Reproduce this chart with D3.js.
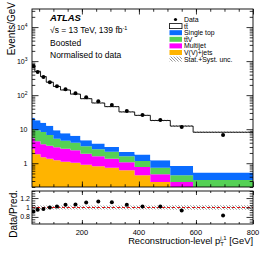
<!DOCTYPE html>
<meta charset="utf-8">
<title>Leading jet pT</title>
<style>
body { margin: 0; background: #fff; }
text { font-family: "Liberation Sans", Arial, sans-serif; fill: #000; }
</style>
<body>
<script src="https://cdn.jsdelivr.net/npm/d3@7"></script>
<script>

// bin edges in GeV
var binEdges = [25, 35, 55, 75, 100, 125, 160, 195, 235, 280, 330, 385, 440, 510, 590, 800];

// Events/GeV per bin
var dataVals  = [710, 475, 339, 241, 184, 150, 114, 87, 66, 51, 34, 26, 18.5, 11.5, 6.7];
var ttbar     = [753, 482, 336, 228, 171, 134, 101, 74, 55, 43, 30, 23.7, 16.8, 11.5, 7.6];
var singleTop = [11.8, 9.05, 7.3, 6.0, 4.1, 3.0, 2.4, 1.59, 1.22, 0.82, 0.55, 0.63, 0.49, 0.39, 0.21];
var ttV       = [4.6, 4.95, 4.6, 3.43, 2.29, 1.93, 1.59, 1.26, 0.98, 0.82, 0.53, 0.39, 0.26, 0.16, 0.18];
var multijet  = [2.82, 2.56, 2.1, 1.91, 1.74, 1.57, 1.38, 1.0, 0.78, 0.62, 0.45, 0.34, 0.19, 0.12, 0.06];
var vvJets    = [2.58, 1.84, 1.5, 1.36, 1.22, 1.1, 1.03, 0.9, 0.82, 0.74, 0.62, 0.44, 0.28, 0.16, 0.08];

// relative stat+syst uncertainty on the prediction
var relUnc = [0.05, 0.04, 0.04, 0.04, 0.04, 0.04, 0.04, 0.04, 0.04, 0.04, 0.04, 0.04, 0.045, 0.05, 0.05];

// Data / Pred.
var ratioVals = [0.916, 0.95, 0.966, 1.0, 1.02, 1.057, 1.063, 1.105, 1.126, 1.114, 1.057, 1.02, 1.02, 0.937, 0.83];

var xMajor = [200, 400, 600, 800];
var xMinor = d3.range(50, 800, 50);
var yDecades = [1, 10, 100, 1000, 10000];
var ratioMajor = [0.8, 1, 1.2];

var samples = [
  {key: "vv", name: "V(V)+jets", vals: vvJets, color: "#ffb400"},
  {key: "mj", name: "Multijet", vals: multijet, color: "#ff00ff"},
  {key: "ttv", name: "tt\u0304V", vals: ttV, color: "#55d155"},
  {key: "st", name: "Single top", vals: singleTop, color: "#0a6cff"},
  {key: "tt", name: "tt\u0304", vals: ttbar, color: "#ffffff"}
];

var W = 266, H = 258;
var L = 32, R = 253, T1 = 9, B1 = 187, T2 = 191, B2 = 224;

var x = d3.scaleLinear().domain([25, 800]).range([L, R]);
var y = d3.scaleLog().domain([0.2, 3.4e4]).range([B1, T1]).clamp(true);
var yr = d3.scaleLinear().domain([0.65, 1.35]).range([B2, T2]);

var svg = d3.select("body").append("svg")
    .attr("width", W)
    .attr("height", H);

var defs = svg.append("defs");
defs.append("clipPath").attr("id", "clipTop")
  .append("rect").attr("x", L).attr("y", T1).attr("width", R - L).attr("height", B1 - T1);
defs.append("clipPath").attr("id", "clipRat")
  .append("rect").attr("x", L).attr("y", T2).attr("width", R - L).attr("height", B2 - T2);

var hatch = defs.append("pattern").attr("id", "hatch")
    .attr("patternUnits", "userSpaceOnUse")
    .attr("width", 3).attr("height", 3);
hatch.append("path").attr("d", "M-1,-1 L4,4 M-1,2 L1,4 M2,-1 L4,1")
    .attr("stroke", "#555").attr("stroke-width", 0.6);

// build the stack, one row per bin
var rows = binEdges.slice(0, -1).map(function(e, i) {
  var r = {lo: e, hi: binEdges[i + 1]};
  samples.forEach(function(s) { r[s.key] = s.vals[i]; });
  return r;
});
var stacked = d3.stack().keys(samples.map(function(s) { return s.key; }))(rows);

function stepPoints(getter) {
  var pts = rows.map(function(r, i) { return {x: r.lo, v: getter(i)}; });
  pts.push({x: binEdges[binEdges.length - 1], v: getter(rows.length - 1)});
  return pts;
}

var gTop = svg.append("g").attr("clip-path", "url(#clipTop)");

stacked.forEach(function(layer, li) {
  var pts = stepPoints(function(i) { return layer[i]; });
  var area = d3.area()
      .curve(d3.curveStepAfter)
      .x(function(d) { return x(d.x); })
      .y0(function(d) { return y(Math.max(d.v[0], 0.01)); })
      .y1(function(d) { return y(d.v[1]); });
  gTop.append("path")
      .datum(pts)
      .attr("d", area)
      .attr("fill", samples[li].color);
});

// total prediction line
var totals = rows.map(function(r, i) { return stacked[stacked.length - 1][i][1]; });
var totPts = stepPoints(function(i) { return totals[i]; });

// uncertainty band
gTop.append("path")
    .datum(totPts)
    .attr("d", d3.area().curve(d3.curveStepAfter)
      .x(function(d) { return x(d.x); })
      .y0(function(d, i) { return y(d.v * (1 - relUnc[Math.min(i, relUnc.length - 1)])); })
      .y1(function(d, i) { return y(d.v * (1 + relUnc[Math.min(i, relUnc.length - 1)])); }))
    .attr("fill", "url(#hatch)");

gTop.append("path")
    .datum(totPts)
    .attr("d", d3.line().curve(d3.curveStepAfter)
      .x(function(d) { return x(d.x); })
      .y(function(d) { return y(d.v); }))
    .attr("fill", "none")
    .attr("stroke", "#000")
    .attr("stroke-width", 0.9);

// data points
gTop.selectAll("circle.data")
    .data(dataVals)
    .enter().append("circle")
    .attr("class", "data")
    .attr("cx", function(d, i) { return x((binEdges[i] + binEdges[i + 1]) / 2); })
    .attr("cy", function(d) { return y(d); })
    .attr("r", 2);

// ratio panel
var gRat = svg.append("g").attr("clip-path", "url(#clipRat)");
var ratPts = stepPoints(function(i) { return relUnc[i]; });
gRat.append("path")
    .datum(ratPts)
    .attr("d", d3.area().curve(d3.curveStepAfter)
      .x(function(d) { return x(d.x); })
      .y0(function(d) { return yr(1 - d.v); })
      .y1(function(d) { return yr(1 + d.v); }))
    .attr("fill", "url(#hatch)");
gRat.append("line")
    .attr("x1", L).attr("x2", R)
    .attr("y1", yr(1)).attr("y2", yr(1))
    .attr("stroke", "#e01010")
    .attr("stroke-width", 1)
    .attr("stroke-dasharray", "3,2");
gRat.selectAll("circle.rat")
    .data(ratioVals)
    .enter().append("circle")
    .attr("class", "rat")
    .attr("cx", function(d, i) { return x((binEdges[i] + binEdges[i + 1]) / 2); })
    .attr("cy", function(d) { return yr(d); })
    .attr("r", 2);

// frames
[[T1, B1], [T2, B2]].forEach(function(p) {
  svg.append("rect")
    .attr("x", L).attr("y", p[0])
    .attr("width", R - L).attr("height", p[1] - p[0])
    .attr("fill", "none").attr("stroke", "#000").attr("stroke-width", 0.9);
});

// ticks
function addAxis(axis, tx, ty) {
  var g = svg.append("g").attr("transform", "translate(" + tx + "," + ty + ")").call(axis);
  g.select(".domain").remove();
  g.selectAll("line").attr("stroke", "#000").attr("stroke-width", 0.8);
  g.selectAll("text").remove();
  return g;
}

[[T1, B1, 5.5], [T2, B2, 4]].forEach(function(p) {
  addAxis(d3.axisBottom(x).tickValues(xMajor).tickSize(-p[2]).tickFormat(""), 0, p[1]);
  addAxis(d3.axisBottom(x).tickValues(xMinor).tickSize(-p[2] / 2).tickFormat(""), 0, p[1]);
  addAxis(d3.axisTop(x).tickValues(xMajor).tickSize(-p[2]).tickFormat(""), 0, p[0]);
  addAxis(d3.axisTop(x).tickValues(xMinor).tickSize(-p[2] / 2).tickFormat(""), 0, p[0]);
});

var yMinor = [];
[0.1, 1, 10, 100, 1000, 10000].forEach(function(dec) {
  for (var k = 2; k <= 9; k++) {
    var v = dec * k;
    if (v >= 0.2 && v <= 3.4e4) yMinor.push(v);
  }
});
addAxis(d3.axisLeft(y).tickValues(yDecades).tickSize(-6.5).tickFormat(""), L, 0);
addAxis(d3.axisLeft(y).tickValues(yMinor).tickSize(-3.3).tickFormat(""), L, 0);
addAxis(d3.axisRight(y).tickValues(yDecades).tickSize(-6.5).tickFormat(""), R, 0);
addAxis(d3.axisRight(y).tickValues(yMinor).tickSize(-3.3).tickFormat(""), R, 0);

var rMinor = d3.range(0.7, 1.35, 0.05).filter(function(v) {
  return ratioMajor.every(function(m) { return Math.abs(m - v) > 1e-6; });
});
addAxis(d3.axisLeft(yr).tickValues(ratioMajor).tickSize(-6.5).tickFormat(""), L, 0);
addAxis(d3.axisLeft(yr).tickValues(rMinor).tickSize(-3.3).tickFormat(""), L, 0);
addAxis(d3.axisRight(yr).tickValues(ratioMajor).tickSize(-6.5).tickFormat(""), R, 0);
addAxis(d3.axisRight(yr).tickValues(rMinor).tickSize(-3.3).tickFormat(""), R, 0);

// tick labels
svg.selectAll("text.xl")
    .data(xMajor)
    .enter().append("text")
    .attr("x", function(d) { return x(d); })
    .attr("y", 235)
    .attr("text-anchor", "middle")
    .attr("font-size", 7.5)
    .text(function(d) { return d; });

yDecades.forEach(function(d) {
  var e = Math.round(Math.log10(d));
  var t = svg.append("text")
      .attr("x", 27.5)
      .attr("y", y(d) + 2.5)
      .attr("text-anchor", "end")
      .attr("font-size", 7);
  if (e === 0) t.text("1");
  else if (e === 1) t.text("10");
  else {
    t.append("tspan").text("10");
    t.append("tspan").attr("dy", -3).attr("font-size", 5).text(e);
  }
});

ratioMajor.forEach(function(d) {
  svg.append("text")
      .attr("x", 30)
      .attr("y", yr(d) + 2.5)
      .attr("text-anchor", "end")
      .attr("font-size", 7)
      .text(d3.format("~g")(d));
});

// axis titles
svg.append("text")
    .attr("transform", "translate(15,2) rotate(-90)")
    .attr("text-anchor", "end")
    .attr("font-size", 10)
    .text("Events/GeV");
svg.append("text")
    .attr("transform", "translate(17,190) rotate(-90)")
    .attr("text-anchor", "end")
    .attr("font-size", 10)
    .text("Data/Pred.");

var xt = svg.append("text")
    .attr("x", R)
    .attr("y", 244)
    .attr("text-anchor", "end")
    .attr("font-size", 9.3);
xt.append("tspan").text("Reconstruction-level p");
xt.append("tspan").attr("dy", 2).attr("font-size", 6).text("T");
xt.append("tspan").attr("dy", -6).attr("dx", -3.5).attr("font-size", 6).text("j,1");
xt.append("tspan").attr("dy", 4).text(" [GeV]");

// ATLAS label
svg.append("text")
    .attr("x", 50).attr("y", 20.5)
    .attr("font-size", 9.5)
    .attr("font-weight", "bold")
    .attr("font-style", "italic")
    .text("ATLAS");
var s1 = svg.append("text").attr("x", 50).attr("y", 33).attr("font-size", 8.5);
s1.append("tspan").text("\u221As = 13 TeV, 139 fb");
s1.append("tspan").attr("dy", -3).attr("font-size", 5.5).text("-1");
svg.append("text").attr("x", 50).attr("y", 45.5).attr("font-size", 8.5).text("Boosted");
svg.append("text").attr("x", 50).attr("y", 57.5).attr("font-size", 8.5).text("Normalised to data");

// legend
var legItems = [
  {name: "Data", type: "data"},
  {name: "tt\u0304", type: "box", fill: "#fff", stroke: "#000"},
  {name: "Single top", type: "box", fill: samples[3].color},
  {name: "tt\u0304V", type: "box", fill: samples[2].color},
  {name: "Multijet", type: "box", fill: samples[1].color},
  {name: "V(V)+jets", type: "box", fill: samples[0].color},
  {name: "Stat.+Syst. unc.", type: "box", fill: "url(#hatch)"}
];
var leg = svg.append("g");
legItems.forEach(function(d, i) {
  var cy = 19.5 + i * 6.6;
  if (d.type === "data") {
    leg.append("circle").attr("cx", 175.5).attr("cy", cy).attr("r", 1.6);
  } else {
    leg.append("rect")
        .attr("x", 169.5).attr("y", cy - 2.5)
        .attr("width", 12.5).attr("height", 5)
        .attr("fill", d.fill)
        .attr("stroke", d.stroke || "none")
        .attr("stroke-width", 0.8);
  }
  leg.append("text")
      .attr("x", 184).attr("y", cy + 2.4)
      .attr("font-size", 6.9)
      .text(d.name);
});

</script>
</body>
